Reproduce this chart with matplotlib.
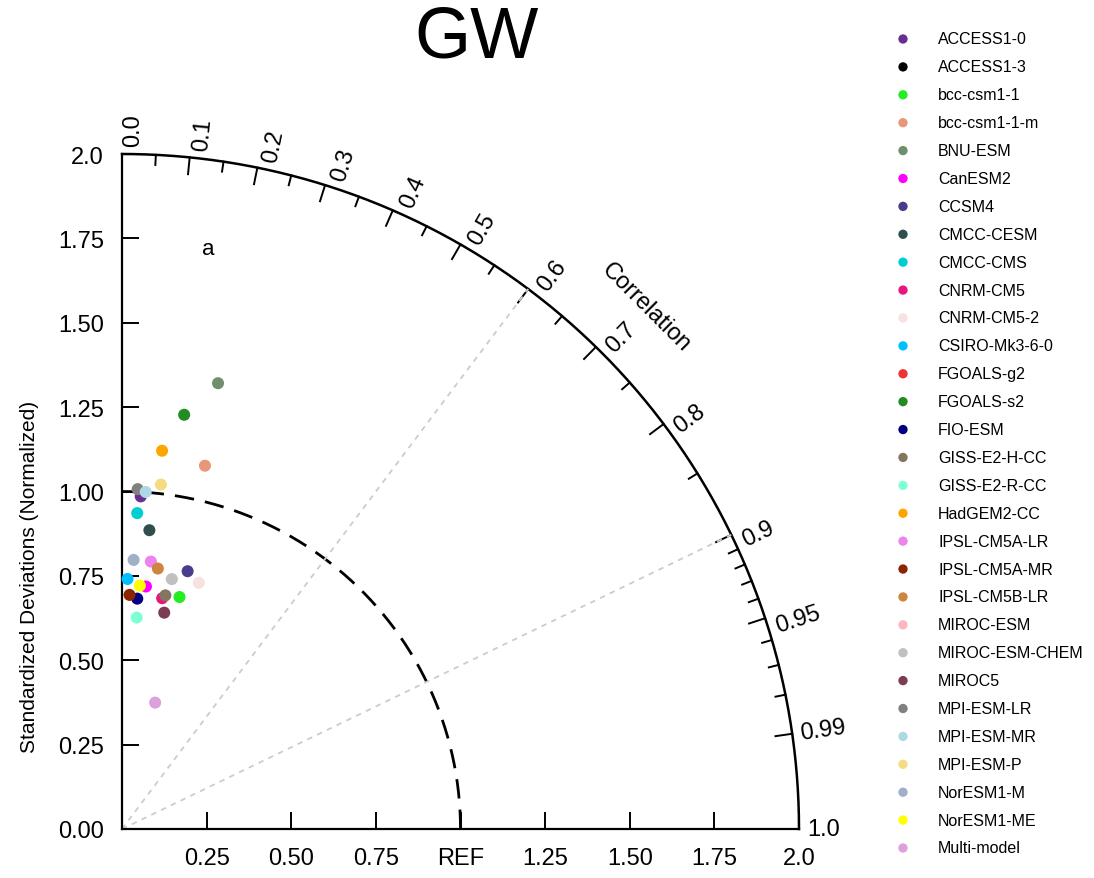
import numpy as np
import matplotlib
matplotlib.use("Agg")
from matplotlib import pyplot as plt

plt.rcParams['font.family'] = ['Liberation Sans', 'DejaVu Sans']

# models, colours, normalized std and correlation
# (ACCESS1-3, FGOALS-g2 and MIROC-ESM are not visible in the reference)
models = ["ACCESS1-0", "ACCESS1-3", "bcc-csm1-1", "bcc-csm1-1-m", "BNU-ESM",
          "CanESM2", "CCSM4", "CMCC-CESM", "CMCC-CMS", "CNRM-CM5",
          "CNRM-CM5-2", "CSIRO-Mk3-6-0", "FGOALS-g2", "FGOALS-s2", "FIO-ESM",
          "GISS-E2-H-CC", "GISS-E2-R-CC", "HadGEM2-CC", "IPSL-CM5A-LR", "IPSL-CM5A-MR",
          "IPSL-CM5B-LR", "MIROC-ESM", "MIROC-ESM-CHEM", "MIROC5", "MPI-ESM-LR",
          "MPI-ESM-MR", "MPI-ESM-P", "NorESM1-M", "NorESM1-ME", "Multi-model"]
colors = ["#6b2d90", "#000000", "#22ee22", "#e8977a", "#6f8f6f",
          "#ff00ff", "#483d8b", "#2f4f4f", "#00ced1", "#e8177d",
          "#f7e1e1", "#00bfff", "#ee3333", "#228b22", "#000080",
          "#857560", "#7fffd4", "#ffa500", "#ee82ee", "#8b2500",
          "#cd853f", "#ffb6c1", "#c0c0c0", "#7d3c55", "#808080",
          "#add8e6", "#f5dc82", "#9fb0c8", "#ffff00", "#dda0dd"]
std = [0.987, np.nan, 0.708, 1.104, 1.351,
       0.722, 0.788, 0.889, 0.937, 0.694,
       0.764, 0.741, np.nan, 1.241, 0.684,
       0.704, 0.628, 1.127, 0.797, 0.694,
       0.779, np.nan, 0.755, 0.653, 1.008,
       1.001, 1.027, 0.798, 0.723, 0.387]
corr = [0.056, np.nan, 0.240, 0.222, 0.210,
        0.098, 0.246, 0.091, 0.048, 0.171,
        0.297, 0.022, np.nan, 0.148, 0.066,
        0.182, 0.069, 0.105, 0.107, 0.032,
        0.136, np.nan, 0.195, 0.191, 0.046,
        0.070, 0.112, 0.043, 0.073, 0.253]

xticks = [0.25, 0.5, 0.75, 1.0, 1.25, 1.5, 1.75, 2.0]
xticklabels = ["0.25", "0.50", "0.75", "REF", "1.25", "1.50", "1.75", "2.0"]
yticks = [0.0, 0.25, 0.5, 0.75, 1.0, 1.25, 1.5, 1.75, 2.0]
yticklabels = ["0.00", "0.25", "0.50", "0.75", "1.00", "1.25", "1.50", "1.75", "2.0"]
corr_major = [0.1, 0.2, 0.3, 0.4, 0.5, 0.6, 0.7, 0.8, 0.9, 0.95, 0.99]
corr_minor = [0.05, 0.15, 0.25, 0.35, 0.45, 0.55, 0.65, 0.75, 0.85,
              0.91, 0.92, 0.93, 0.94, 0.96, 0.97, 0.98]
corr_labels = ["0.0", "0.1", "0.2", "0.3", "0.4", "0.5", "0.6", "0.7", "0.8",
               "0.9", "0.95", "0.99", "1.0"]
corr_lines = [0.6, 0.9]

fig = plt.figure(figsize=(10.94, 8.79), dpi=100)
ax = fig.add_axes([122 / 1094, 49 / 879, 677 / 1094, 675 / 879])
ax.set_xlim(0, 2)
ax.set_ylim(0, 2)
for s in ["top", "right"]:
    ax.spines[s].set_visible(False)
for s in ["left", "bottom"]:
    ax.spines[s].set_linewidth(1.6)

ax.set_xticks(xticks)
ax.set_xticklabels(xticklabels)
ax.set_yticks(yticks)
ax.set_yticklabels(yticklabels)
ax.tick_params(direction="in", length=12, width=1.4, labelsize=17, pad=13)

# outer arc (std = 2) and reference arc (std = 1)
th = np.linspace(0, np.pi / 2, 400)
ax.plot(2 * np.cos(th), 2 * np.sin(th), color="black", lw=1.8, clip_on=False)
ax.plot(np.cos(th), np.sin(th), color="black", lw=2.0, dashes=(7, 4), clip_on=False)

# correlation ticks on the arc
for c in corr_major:
    t = np.arccos(c)
    ax.plot([2 * np.cos(t), 1.95 * np.cos(t)], [2 * np.sin(t), 1.95 * np.sin(t)],
            color="black", lw=1.4, clip_on=False)
for c in corr_minor:
    t = np.arccos(c)
    ax.plot([2 * np.cos(t), 1.97 * np.cos(t)], [2 * np.sin(t), 1.97 * np.sin(t)],
            color="black", lw=1.4, clip_on=False)
for lab in corr_labels:
    t = np.arccos(float(lab))
    ax.text(2.025 * np.cos(t), 2.025 * np.sin(t), lab,
            rotation=np.degrees(t), rotation_mode="anchor", ha="left",
            va="center" if float(lab) >= 0.99 else "top", fontsize=17)
for c in corr_lines:
    t = np.arccos(c)
    ax.plot([0, 2 * np.cos(t)], [0, 2 * np.sin(t)], color="#cccccc", lw=1.3,
            dashes=(3, 3))

ax.text(2.19 * np.cos(np.pi / 4), 2.19 * np.sin(np.pi / 4), "Correlation",
        rotation=-45, ha="center", va="center", fontsize=17)
ax.text(0.255, 1.72, "a", ha="center", va="center", fontsize=16)

# model points
for m, c, s, r in zip(models, colors, std, corr):
    ax.scatter(s * r, s * np.sin(np.arccos(r)), s=75, color=c, edgecolors="none",
               zorder=5, clip_on=False)

fig.text(30 / 1094, 1 - 577 / 879, "Standardized Deviations (Normalized)",
         rotation=90, ha="center", va="center", fontsize=15)
fig.text(477 / 1094, 1 - 39 / 879, "GW", ha="center", va="center", fontsize=52)

# legend column
lax = fig.add_axes([880 / 1094, 0, 214 / 1094, 1])
lax.set_xlim(0, 214)
lax.set_ylim(879, 0)
lax.axis("off")
ypos = 40 + np.arange(len(models)) * (809 / 29)
lax.scatter(np.full(len(models), 23), ypos, s=45, c=colors, edgecolors="none")
for m, y in zip(models, ypos):
    lax.text(58, y, m, ha="left", va="center", fontsize=11.5)

fig.savefig("out.png", dpi=100)
